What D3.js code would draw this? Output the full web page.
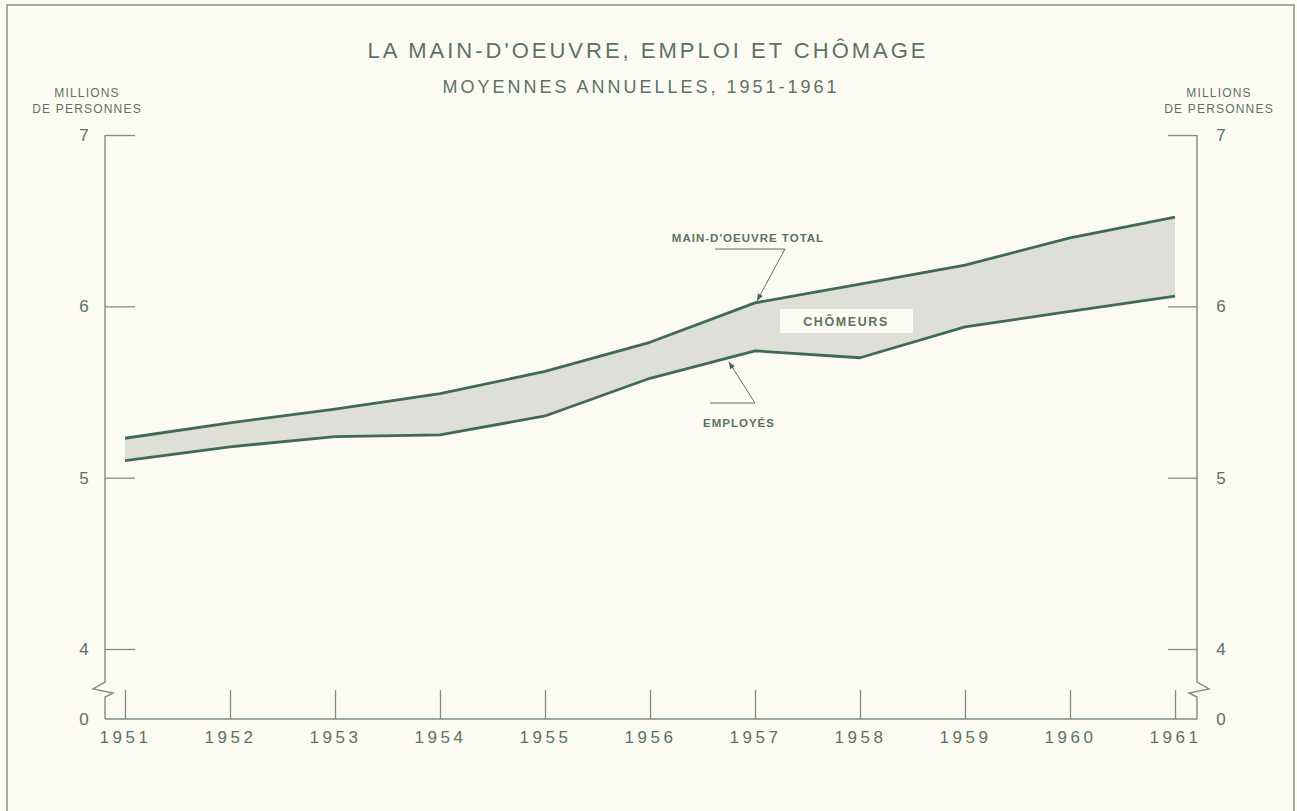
<!DOCTYPE html>
<html>
<head>
<meta charset="utf-8">
<script src="https://cdn.jsdelivr.net/npm/d3@7"></script>
<style>
  body { margin: 0; background: #fbfbf4; }
  svg { display: block; }
  text { font-family: 'Liberation Sans', Arial, sans-serif; fill: #5f725f; }
</style>
</head>
<body>
<svg id="chart"></svg>
<script>
// annual averages, millions of persons
var years = [1951, 1952, 1953, 1954, 1955, 1956, 1957, 1958, 1959, 1960, 1961];
var labourForce = [5.23, 5.32, 5.40, 5.49, 5.62, 5.79, 6.02, 6.13, 6.24, 6.40, 6.52];
var employed = [5.10, 5.18, 5.24, 5.25, 5.36, 5.58, 5.74, 5.70, 5.88, 5.97, 6.06];
var yTicks = [0, 4, 5, 6, 7];

var width = 1297, height = 811;
var lineColor = '#416b4e';
var axisColor = '#7d907d';

var svg = d3.select('#chart')
  .attr('width', width)
  .attr('height', height);

// frame
svg.append('rect')
  .attr('x', 7).attr('y', 5)
  .attr('width', 1287).attr('height', 830)
  .attr('fill', '#fbfbf4')
  .attr('stroke', '#8d9c8d')
  .attr('stroke-width', 1.6);

var x = d3.scaleLinear().domain([1951, 1961]).range([125, 1175]);
// broken scale: 0 sits just below 4
var y = d3.scaleLinear().domain([0, 4, 7]).range([719, 649, 135]);

var left = 105, right = 1197;

// titles
svg.append('text')
  .attr('x', 648).attr('y', 58)
  .attr('text-anchor', 'middle')
  .style('font-size', '22px')
  .style('letter-spacing', '3px')
  .text("LA MAIN-D'OEUVRE, EMPLOI ET CHÔMAGE");

svg.append('text')
  .attr('x', 641).attr('y', 93)
  .attr('text-anchor', 'middle')
  .style('font-size', '18px')
  .style('letter-spacing', '3px')
  .text('MOYENNES ANNUELLES, 1951-1961');

// unit labels
[[87, 'left'], [1219, 'right']].forEach(function(u) {
  var g = svg.append('g').attr('transform', 'translate(' + u[0] + ',0)');
  g.append('text').attr('y', 97).attr('text-anchor', 'middle')
    .style('font-size', '12px').style('letter-spacing', '1.2px').text('MILLIONS');
  g.append('text').attr('y', 113).attr('text-anchor', 'middle')
    .style('font-size', '12px').style('letter-spacing', '1.2px').text('DE PERSONNES');
});

// chômeurs band
var area = d3.area()
  .x(function(d, i) { return x(years[i]); })
  .y0(function(d, i) { return y(employed[i]); })
  .y1(function(d) { return y(d); });

svg.append('path')
  .datum(labourForce)
  .attr('d', area)
  .attr('fill', '#dfdfd9');

var line = d3.line()
  .x(function(d, i) { return x(years[i]); })
  .y(function(d) { return y(d); });

[labourForce, employed].forEach(function(s) {
  svg.append('path')
    .datum(s)
    .attr('d', line)
    .attr('fill', 'none')
    .attr('stroke', lineColor)
    .attr('stroke-width', 2.8)
    .attr('stroke-linejoin', 'round');
});

// axes with break
var brk = y(0) - 37;
function brokenAxis(ax, dir) {
  return 'M' + ax + ',' + y(7) + 'V' + brk +
    'L' + (ax - 12 * dir) + ',' + (brk + 7) +
    'L' + (ax + 8 * dir) + ',' + (brk + 11) +
    'L' + ax + ',' + (brk + 15) + 'V' + y(0);
}
svg.append('path').attr('d', brokenAxis(left, 1))
  .attr('fill', 'none').attr('stroke', axisColor).attr('stroke-width', 1.4);
svg.append('path').attr('d', brokenAxis(right, -1))
  .attr('fill', 'none').attr('stroke', axisColor).attr('stroke-width', 1.4);
svg.append('line')
  .attr('x1', left).attr('x2', right)
  .attr('y1', y(0)).attr('y2', y(0))
  .attr('stroke', axisColor).attr('stroke-width', 1.4);

var yl = svg.append('g')
  .attr('transform', 'translate(' + left + ',0)')
  .call(d3.axisLeft(y).tickValues(yTicks).tickSize(-30).tickPadding(17).tickFormat(d3.format('d')));
var yr = svg.append('g')
  .attr('transform', 'translate(' + right + ',0)')
  .call(d3.axisRight(y).tickValues(yTicks).tickSize(-29).tickPadding(19).tickFormat(d3.format('d')));

var xa = svg.append('g')
  .attr('transform', 'translate(0,' + y(0) + ')')
  .call(d3.axisBottom(x).tickValues(years).tickSize(-29).tickPadding(12).tickFormat(d3.format('d')));

[yl, yr, xa].forEach(function(g) {
  g.select('.domain').remove();
  g.selectAll('.tick line').attr('stroke', axisColor).attr('stroke-width', 1.3);
  g.selectAll('.tick text')
    .style('font-family', "'Liberation Sans', Arial, sans-serif")
    .style('font-size', '17px')
    .attr('fill', '#5f725f');
});
yl.selectAll('.tick text').attr('text-anchor', 'middle').attr('dx', '-4');
yr.selectAll('.tick text').attr('text-anchor', 'middle').attr('dx', '5');
yl.selectAll('.tick').filter(function(d) { return d === 0; }).select('line').remove();
yr.selectAll('.tick').filter(function(d) { return d === 0; }).select('line').remove();
xa.selectAll('.tick text').style('letter-spacing', '3.5px');

// annotations
svg.append('defs').append('marker')
  .attr('id', 'arrow')
  .attr('viewBox', '0 0 10 10')
  .attr('refX', 10).attr('refY', 5)
  .attr('markerWidth', 9).attr('markerHeight', 7)
  .attr('markerUnits', 'userSpaceOnUse')
  .attr('orient', 'auto')
  .append('path')
  .attr('d', 'M0,1L10,5L0,9Z')
  .attr('fill', '#4e624e');

var tipTotal = [x(1957) + 2, y(labourForce[6]) - 2];
svg.append('polyline')
  .attr('points', [[715, 249], [785, 249], tipTotal].join(' '))
  .attr('fill', 'none').attr('stroke', '#5f725f').attr('stroke-width', 1)
  .attr('marker-end', 'url(#arrow)');
svg.append('text')
  .attr('x', 748).attr('y', 242)
  .attr('text-anchor', 'middle')
  .style('font-size', '11.5px').style('font-weight', 'bold')
  .style('letter-spacing', '1px')
  .text("MAIN-D'OEUVRE TOTAL");

var tipEmp = [x(1956.75), y(5.70) + 4];
svg.append('polyline')
  .attr('points', [[710, 403], [755, 403], tipEmp].join(' '))
  .attr('fill', 'none').attr('stroke', '#5f725f').attr('stroke-width', 1)
  .attr('marker-end', 'url(#arrow)');
svg.append('text')
  .attr('x', 739).attr('y', 427)
  .attr('text-anchor', 'middle')
  .style('font-size', '11.5px').style('font-weight', 'bold')
  .style('letter-spacing', '1px')
  .text('EMPLOYÉS');

svg.append('rect')
  .attr('x', 780).attr('y', 309)
  .attr('width', 133).attr('height', 24)
  .attr('fill', '#fbfbf4');
svg.append('text')
  .attr('x', 846).attr('y', 326)
  .attr('text-anchor', 'middle')
  .style('font-size', '12.5px').style('font-weight', 'bold')
  .style('letter-spacing', '1.6px')
  .text('CHÔMEURS');
</script>
</body>
</html>
